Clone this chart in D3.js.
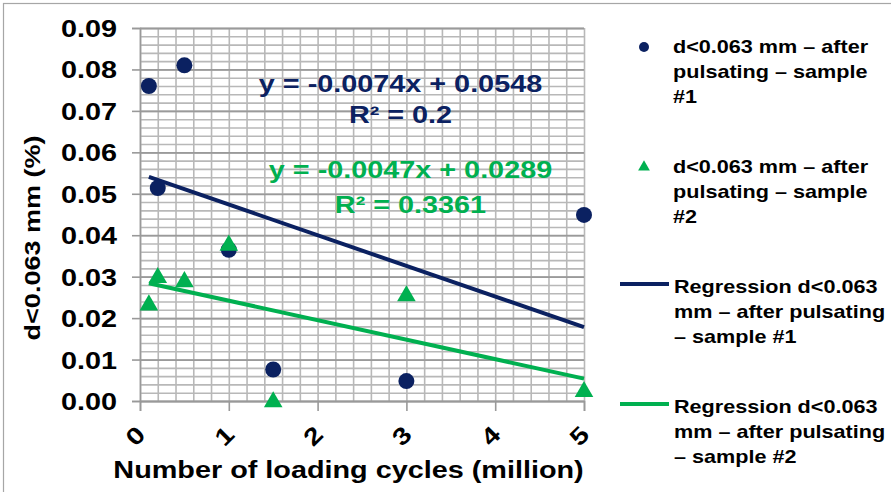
<!DOCTYPE html>
<html>
<head>
<meta charset="utf-8">
<script src="https://cdn.jsdelivr.net/npm/d3@7"></script>
<style>
  html, body { margin: 0; padding: 0; background: #fff; }
  svg { display: block; }
  text { font-family: "Liberation Sans", Arial, sans-serif; font-weight: bold; }
</style>
</head>
<body>
<svg id="chart" width="891" height="492"></svg>
<script>
// ---------- data ----------
const s1X = [0.1, 0.5, 0.2, 1, 1.5, 3, 5];
const s1Y = [0.076, 0.081, 0.0514, 0.0365, 0.0076, 0.0048, 0.0449];
const s2X = [0.1, 0.2, 0.5, 1, 1.5, 3, 5];
const s2Y = [0.0234, 0.0300, 0.0290, 0.0378, 0.0000, 0.0256, 0.0025];
const reg1 = { slope: -0.0074, intercept: 0.0548, x0: 0.1, x1: 5 };
const reg2 = { slope: -0.0047, intercept: 0.0289, x0: 0.1, x1: 5 };
const eq1Lines = ["y = -0.0074x + 0.0548", "R² = 0.2"];
const eq2Lines = ["y = -0.0047x + 0.0289", "R² = 0.3361"];
const xTickValues = [0, 1, 2, 3, 4, 5];
const xTickLabels = ["0", "1", "2", "3", "4", "5"];
const yTickValues = [0, 0.01, 0.02, 0.03, 0.04, 0.05, 0.06, 0.07, 0.08, 0.09];
const yTickLabels = ["0.00", "0.01", "0.02", "0.03", "0.04", "0.05", "0.06", "0.07", "0.08", "0.09"];
const xTitle = "Number of loading cycles (million)";
const yTitle = "d<0.063 mm (%)";
const legendLabels = [
  ["d<0.063 mm – after", "pulsating – sample", "#1"],
  ["d<0.063 mm – after", "pulsating – sample", "#2"],
  ["Regression d<0.063", "mm – after pulsating", "– sample #1"],
  ["Regression d<0.063", "mm – after pulsating", "– sample #2"]
];

// ---------- style ----------
const NAVY = "#0b2161";
const GREEN = "#00b050";
const SX = 1.2; // horizontal glyph stretch seen in the reference

const svg = d3.select("#chart");
svg.append("rect").attr("width", 891).attr("height", 492).attr("fill", "#fff");
svg.append("rect").attr("x", 3.5).attr("y", 3.5).attr("width", 1000).attr("height", 1000)
  .attr("fill", "none").attr("stroke", "#a6a6a6").attr("stroke-width", 1.2);

const x = d3.scaleLinear().domain([0, 5]).range([140, 584]);
const y = d3.scaleLinear().domain([0, 0.09]).range([401, 28]);
const W = 584 - 140, H = 401 - 28;

// ---------- grid ----------
const minorX = d3.range(0, 5.0001, 0.2);
const minorY = d3.range(0, 0.09001, 0.002);
const grid = svg.append("g");
grid.append("g").attr("transform", `translate(0,${y(0)})`)
  .call(d3.axisBottom(x).tickValues(minorX).tickSize(-H).tickFormat(""))
  .call(g => g.select(".domain").remove())
  .call(g => g.selectAll("line").attr("stroke", "#b8b8b8").attr("stroke-width", 1.6));
grid.append("g").attr("transform", `translate(${x(0)},0)`)
  .call(d3.axisLeft(y).tickValues(minorY).tickSize(-W).tickFormat(""))
  .call(g => g.select(".domain").remove())
  .call(g => g.selectAll("line").attr("stroke", "#b8b8b8").attr("stroke-width", 1.6));
grid.append("g").attr("transform", `translate(${x(0)},0)`)
  .call(d3.axisLeft(y).tickValues(yTickValues).tickSize(-W).tickFormat(""))
  .call(g => g.select(".domain").remove())
  .call(g => g.selectAll("line").attr("stroke", "#9a9a9a").attr("stroke-width", 1.8));

// ---------- axes ----------
const xAxis = svg.append("g").attr("transform", `translate(0,${y(0)})`)
  .call(d3.axisBottom(x).tickValues(xTickValues).tickSize(10)
    .tickFormat((d, i) => xTickLabels[i]));
xAxis.select(".domain").attr("stroke", "#999").attr("stroke-width", 1.6);
xAxis.selectAll(".tick line").attr("stroke", "#999").attr("stroke-width", 1.6);
xAxis.selectAll(".tick text")
  .attr("x", 0).attr("y", 0).attr("dy", null)
  .attr("fill", "#000").attr("font-size", 24)
  .attr("text-anchor", "middle").attr("dominant-baseline", "central")
  .attr("transform", `translate(-5,35) rotate(-45) scale(${SX},1)`);

const yAxis = svg.append("g").attr("transform", `translate(${x(0)},0)`)
  .call(d3.axisLeft(y).tickValues(yTickValues).tickSize(8)
    .tickFormat((d, i) => yTickLabels[i]));
yAxis.select(".domain").attr("stroke", "#999").attr("stroke-width", 1.6);
yAxis.selectAll(".tick line").attr("stroke", "#999").attr("stroke-width", 1.6);
yAxis.selectAll(".tick text")
  .attr("x", 0).attr("dy", null).attr("y", 0)
  .attr("fill", "#000").attr("font-size", 24)
  .attr("text-anchor", "end")
  .attr("transform", `translate(-23,8.5) scale(${SX},1)`);
svg.selectAll(".tick text").attr("font-family", "Liberation Sans, Arial, sans-serif").attr("font-weight", "bold");

// axis titles
svg.append("text").text(xTitle)
  .attr("font-size", 24).attr("text-anchor", "middle").attr("fill", "#000")
  .attr("transform", `translate(348.5,478) scale(${SX},1)`);
svg.append("text").text(yTitle)
  .attr("font-size", 22.5).attr("text-anchor", "middle").attr("fill", "#000")
  .attr("transform", `translate(40,238) rotate(-90) scale(${SX},1)`);

// ---------- regression lines ----------
const lineGen = d3.line().x(d => x(d[0])).y(d => y(d[1]));
[[reg1, NAVY], [reg2, GREEN]].forEach(([r, c]) => {
  const pts = [r.x0, r.x1].map(v => [v, r.slope * v + r.intercept]);
  svg.append("path").datum(pts).attr("d", lineGen)
    .attr("fill", "none").attr("stroke", c).attr("stroke-width", 4);
});

// ---------- markers ----------
const s1 = s1X.map((v, i) => [v, s1Y[i]]);
const s2 = s2X.map((v, i) => [v, s2Y[i]]);
svg.append("g").selectAll("circle").data(s1).join("circle")
  .attr("cx", d => x(d[0])).attr("cy", d => y(d[1])).attr("r", 8)
  .attr("fill", NAVY);
const tri = d3.symbol().type(d3.symbolTriangle).size(150);
svg.append("g").selectAll("path").data(s2).join("path")
  .attr("d", tri)
  .attr("transform", d => `translate(${x(d[0])},${y(d[1]) + 1})`)
  .attr("fill", GREEN);

// ---------- equations ----------
function eq(lines, cx, ys, color) {
  lines.forEach((t, i) => {
    svg.append("text").text(t)
      .attr("font-size", 24).attr("text-anchor", "middle").attr("fill", color)
      .attr("transform", `translate(${cx},${ys[i]}) scale(${SX},1)`);
  });
}
eq(eq1Lines, 400.5, [92, 123], NAVY);
eq(eq2Lines, 410.5, [178, 213], GREEN);

// ---------- legend ----------
const legend = svg.append("g");
const legTop = [53, 173, 293, 413];
const legStep = 25;
legendLabels.forEach((lines, k) => {
  lines.forEach((t, j) => {
    legend.append("text").text(t)
      .attr("font-size", 18).attr("fill", "#000")
      .attr("transform", `translate(${k < 2 ? 673 : 674},${legTop[k] + j * legStep}) scale(${SX},1)`);
  });
});
legend.append("circle").attr("cx", 644).attr("cy", 47).attr("r", 5).attr("fill", NAVY);
legend.append("path").attr("d", d3.symbol().type(d3.symbolTriangle).size(60))
  .attr("transform", "translate(644,167)").attr("fill", GREEN);
legend.append("line").attr("x1", 620).attr("x2", 669).attr("y1", 284).attr("y2", 284)
  .attr("stroke", NAVY).attr("stroke-width", 4);
legend.append("line").attr("x1", 620).attr("x2", 669).attr("y1", 404).attr("y2", 404)
  .attr("stroke", GREEN).attr("stroke-width", 4);
</script>
</body>
</html>
